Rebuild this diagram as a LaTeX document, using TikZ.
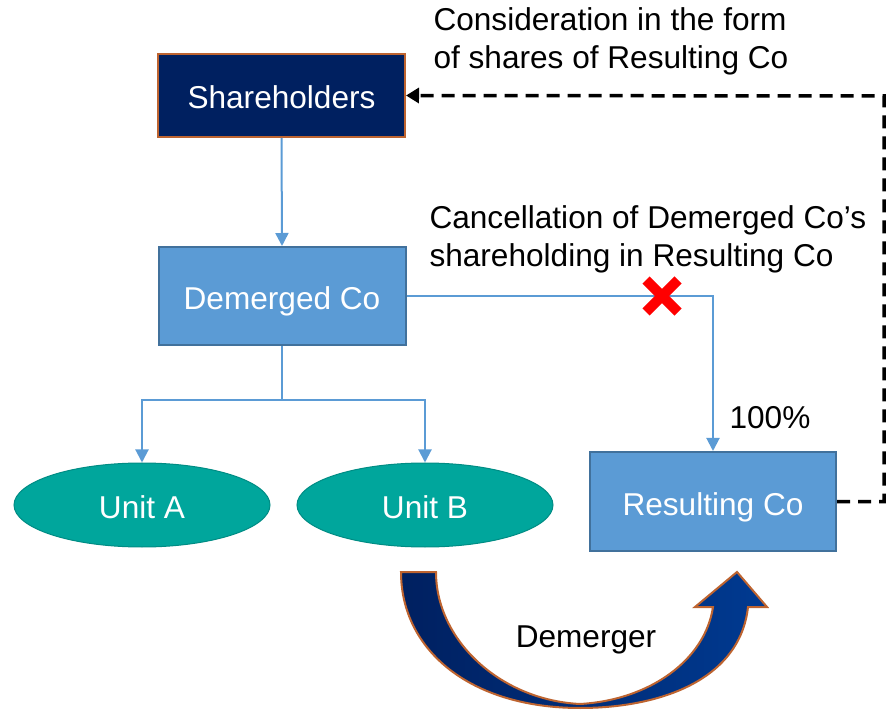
\documentclass[tikz,border=0pt]{standalone}
\usepackage{fontspec}
\setmainfont{Liberation Sans}
\usetikzlibrary{shapes.geometric,arrows.meta}
\definecolor{navy}{RGB}{0,32,96}
\definecolor{navyR}{RGB}{0,58,145}
\definecolor{brownB}{RGB}{190,100,48}
\definecolor{boxblue}{RGB}{91,155,213}
\definecolor{boxedge}{RGB}{65,113,156}
\definecolor{teal}{RGB}{0,166,156}
\definecolor{tealedge}{RGB}{0,140,132}
\definecolor{conn}{RGB}{91,155,213}
\tikzset{
  txt/.style={font=\fontsize{31.6}{38}\selectfont},
  intxt/.style={txt,text height=27pt,text depth=0pt},
  shbox/.style={draw=brownB,line width=2pt,fill=navy,text=white,minimum width=247pt,minimum height=83pt,inner sep=0pt,intxt},
  cobox/.style={draw=boxedge,line width=2pt,fill=boxblue,text=white,minimum width=247pt,minimum height=98pt,inner sep=0pt,intxt},
  unit/.style={ellipse,draw=tealedge,line width=1pt,fill=teal,text=white,minimum width=256pt,minimum height=84pt,inner sep=0pt,intxt},
  connline/.style={draw=conn,line width=2pt},
  connarrow/.style={connline,-{Triangle[width=13pt,length=13pt]}},
  crossmark/.style={red,line width=10pt}
}
\begin{document}
\begin{tikzpicture}[x=1pt,y=-1pt]
\useasboundingbox (0,0) rectangle (887,711);
\node[shbox] (S) at (281.5,95.5) {Shareholders};
\node[cobox] (D) at (282,296) {Demerged Co};
\node[unit] (A) at (142,505) {Unit A};
\node[unit] (B) at (425,505) {Unit B};
\node[cobox,minimum width=246pt,minimum height=99pt] (R) at (713,501.5) {Resulting Co};
\coordinate (split) at (282,400);
\coordinate (dc) at (884,96);
\draw[connarrow] (S.south) -- (D.north);
\draw[connline] (D.south) -- (split);
\draw[connarrow] (split) -| (A.north);
\draw[connarrow] (split) -| (B.north);
\draw[connarrow] (D.east) -| (R.north);
\draw[black,line width=3.5pt,dash pattern=on 13pt off 8pt,-{Triangle[width=15pt,length=13pt]}] (R.east) -| (dc) -- (S.east);
% red cross
\coordinate (X) at (662,296);
\draw[crossmark] ([shift={(-16,-16)}]X) -- ([shift={(16,16)}]X) ([shift={(16,-16)}]X) -- ([shift={(-16,16)}]X);
% labels
\node[txt,anchor=west,align=left] (L1) at (430,41) {Consideration in the form\\of shares of Resulting Co};
\node[txt,anchor=west,align=left] (L2) at (426,239) {Cancellation of Demerged Co’s\\shareholding in Resulting Co};
\node[txt] (P) at (770,418) {100\%};
% curved arrow
\draw[brownB,line width=2pt,left color=navy,right color=navyR]
  (401,572) -- (436,572)
  .. controls (436,640) and (500,700) .. (580,704)
  .. controls (650,700) and (705,660) .. (713,607)
  -- (695,607) -- (737,572) -- (767,607) -- (748,607)
  .. controls (740,680) and (660,708) .. (580,708)
  .. controls (470,708) and (401,650) .. cycle;
\node[txt] (Dm) at (586,640) {Demerger};
\end{tikzpicture}
\end{document}
